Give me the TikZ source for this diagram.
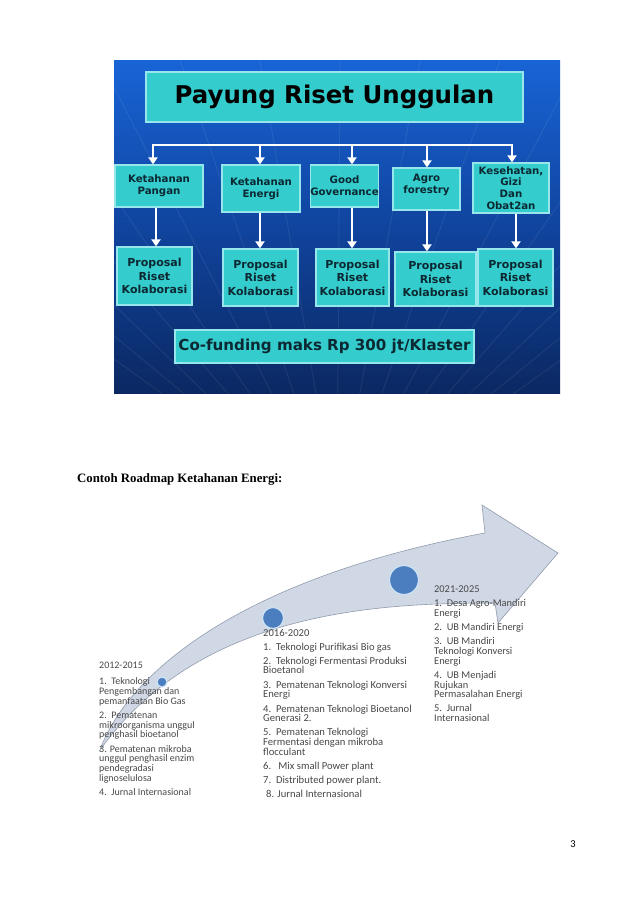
\documentclass[tikz,border=0pt]{standalone}
\usepackage{fontspec}
\setmainfont{Liberation Serif}
\newfontfamily\vfont{DejaVu Sans}
\newfontfamily\cfont{Carlito}
\usetikzlibrary{arrows.meta}
\definecolor{paneltop}{RGB}{24,100,214}
\definecolor{panelmid}{RGB}{16,68,158}
\definecolor{panelbot}{RGB}{11,40,98}
\definecolor{boxfill}{RGB}{52,204,204}
\definecolor{boxline}{RGB}{150,230,235}
\definecolor{boxtext}{RGB}{12,40,50}
\definecolor{arrowfill}{RGB}{208,216,230}
\definecolor{arrowline}{RGB}{145,155,172}
\definecolor{dotfill}{RGB}{74,126,190}
\definecolor{dotline}{RGB}{205,225,245}
\definecolor{roadtext}{RGB}{72,72,72}
\tikzset{
 panel/.style={draw=none, inner sep=0, top color=paneltop, bottom color=panelbot, middle color=panelmid, minimum width=446pt, minimum height=333pt},
 tbox/.style={draw=boxline, line width=1.2pt, fill=boxfill, inner sep=0, text=boxtext, align=center, font=\vfont\bfseries\fontsize{10.2}{11.7}\selectfont},
 pbox/.style={tbox, font=\vfont\bfseries\fontsize{11}{13.5}\selectfont},
 conn/.style={white, line width=2.4pt, line cap=rect},
 arr/.style={white, line width=2.4pt, -{Triangle[width=9pt,length=7pt]}},
 road/.style={fill=arrowfill, draw=arrowline, line width=0.6pt},
 dot/.style={circle, fill=dotfill, draw=dotline, line width=1.2pt, inner sep=0},
 roadtxt/.style={anchor=north west, align=left, inner sep=0, text=roadtext, font=\cfont\fontsize{10.4}{9.7}\selectfont},
 ray/.style={white, opacity=0.07, line width=1pt},
}
\begin{document}
\begin{tikzpicture}[x=1pt,y=-1pt]
\useasboundingbox (0,0) rectangle (638,903);
\fill[white] (0,0) rectangle (638,903);
% panel
\node[panel] (panel) at (337,226.5) {};
\begin{scope}
\clip (114,60) rectangle (560,393);
\foreach \x in {-300,-220,...,980} \draw[ray] (337,520) -- (\x,60);
\end{scope}
\node[tbox, minimum width=377pt, minimum height=50pt, text=black, font=\vfont\bfseries\fontsize{24.4}{28}\selectfont] (title) at (334.5,97) {Payung Riset Unggulan};
% level 2
\node[tbox, minimum width=88pt, minimum height=42pt] (k1) at (159,186) {Ketahanan\\Pangan};
\node[tbox, minimum width=78pt, minimum height=47pt] (k2) at (261,188.5) {Ketahanan\\Energi};
\node[tbox, minimum width=67pt, minimum height=42pt] (k3) at (344.5,186) {Good\\Governance};
\node[tbox, minimum width=67pt, minimum height=42pt] (k4) at (426.5,189) {Agro\\forestry\rule[-10pt]{0pt}{10pt}};
\node[tbox, minimum width=76pt, minimum height=50pt] (k5) at (511,188) {Kesehatan,\\Gizi\\Dan\\Obat2an};
% level 3
\node[pbox, minimum width=75pt, minimum height=58pt] (p1) at (154.5,276) {Proposal\\Riset\\Kolaborasi};
\node[pbox, minimum width=75pt, minimum height=57pt] (p2) at (260.5,277.5) {Proposal\\Riset\\Kolaborasi};
\node[pbox, minimum width=73pt, minimum height=57pt] (p3) at (352.5,277.5) {Proposal\\Riset\\Kolaborasi};
\node[pbox, minimum width=81pt, minimum height=54pt] (p4) at (435.5,279) {Proposal\\Riset\\Kolaborasi};
\node[pbox, minimum width=75pt, minimum height=57pt] (p5) at (515.5,277.5) {Proposal\\Riset\\Kolaborasi};
\node[tbox, minimum width=299pt, minimum height=33pt, font=\vfont\bfseries\fontsize{15.1}{18}\selectfont] (cofund) at (324.5,346.5) {Co-funding maks Rp 300 jt/Klaster};
% tree connectors
\coordinate (b1) at (153,145);
\coordinate (b2) at (260,145);
\coordinate (b3) at (352,145);
\coordinate (b4) at (427,145);
\coordinate (b5) at (512,145);
\draw[conn] (b1) -- (b5);
\draw[arr] (b1) -- (b1 |- k1.north);
\draw[arr] (b2) -- (b2 |- k2.north);
\draw[arr] (b3) -- (b3 |- k3.north);
\draw[arr] (b4) -- (b4 |- k4.north);
\draw[arr] (b5) -- (b5 |- k5.north);
\coordinate (c1) at (156,0);
\coordinate (c2) at (260,0);
\coordinate (c3) at (352,0);
\coordinate (c4) at (427,0);
\coordinate (c5) at (516,0);
\draw[arr] (k1.south -| c1) -- (p1.north -| c1);
\draw[arr] (k2.south -| c2) -- (p2.north -| c2);
\draw[arr] (k3.south -| c3) -- (p3.north -| c3);
\draw[arr] (k4.south -| c4) -- (p4.north -| c4);
\draw[arr] (k5.south -| c5) -- (p5.north -| c5);
% heading
\node[anchor=base west, inner sep=0, font=\bfseries\fontsize{12.8}{15}\selectfont] (heading) at (77,482) {Contoh Roadmap Ketahanan Energi:};
% roadmap arrow
\filldraw[road] (100,750) .. controls (125,680) and (230,580) .. (485,533) -- (482,505) -- (558,553) -- (498,623) -- (495,603) .. controls (380,603) and (200,610) .. cycle;
\node[dot, minimum size=10pt] (d1) at (162,682) {};
\node[dot, minimum size=21pt] (d2) at (273,618) {};
\node[dot, minimum size=29pt] (d3) at (404,580) {};
% texts
\node[roadtxt, font=\cfont\fontsize{10}{9.7}\selectfont] (t1) at (99,661.5) {2012-2015\\[7pt]1.\ \ Teknologi\\Pengembangan dan\\pemanfaatan Bio Gas\\[4.5pt]2.\ \ Pematenan\\mikroorganisma unggul\\penghasil bioetanol\\[4.5pt]3. Pematenan mikroba\\unggul penghasil enzim\\pendegradasi\\lignoselulosa\\[4.5pt]4.\ \ Jurnal Internasional};
\node[roadtxt, font=\cfont\fontsize{10.6}{9.7}\selectfont] (t2) at (263,629.5) {2016-2020\\[3.5pt]1.\ \ Teknologi Purifikasi Bio gas\\[4.5pt]2.\ \ Teknologi Fermentasi Produksi\\Bioetanol\\[4.5pt]3.\ \ Pematenan Teknologi Konversi\\Energi\\[4.5pt]4.\ \ Pematenan Teknologi Bioetanol\\Generasi 2.\\[4.5pt]5.\ \ Pematenan Teknologi\\Fermentasi dengan mikroba\\flocculant\\[4.5pt]6.\ \ \ Mix small Power plant\\[4.5pt]7.\ \ Distributed power plant.\\[4.5pt]\hspace{3pt}8. Jurnal Internasional};
\node[roadtxt] (t3) at (434,585.5) {2021-2025\\[4.5pt]1.\ \ Desa Agro-Mandiri\\Energi\\[4.5pt]2.\ \ UB Mandiri Energi\\[4.5pt]3.\ \ UB Mandiri\\Teknologi Konversi\\Energi\\[4.5pt]4.\ \ UB Menjadi\\Rujukan\\Permasalahan Energi\\[4.5pt]5.\ \ Jurnal\\Internasional};
\node[anchor=base, inner sep=0, font=\cfont\fontsize{10.5}{13}\selectfont] (pg) at (573,847) {3};
\end{tikzpicture}
\end{document}
